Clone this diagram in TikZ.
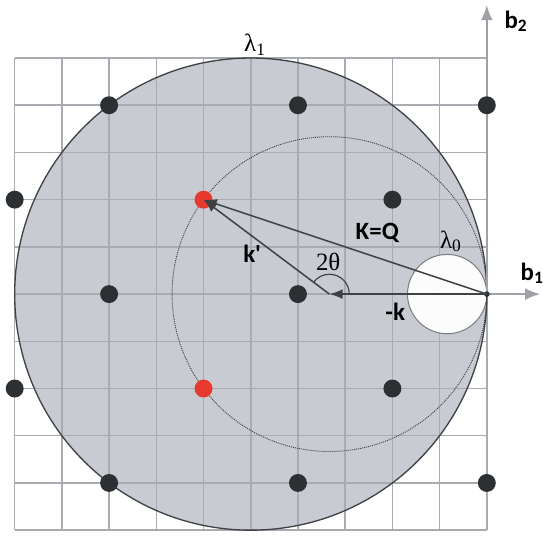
\documentclass[tikz,border=0pt]{standalone}
\usepackage{fontspec}
\setmainfont{Liberation Serif}
\newfontfamily\lblfont{Carlito}
\usetikzlibrary{arrows.meta}
\definecolor{ink}{HTML}{3F4245}
\definecolor{dotc}{HTML}{2D3033}
\definecolor{redc}{HTML}{E8392F}
\definecolor{disk}{HTML}{C8CCD2}
\definecolor{gridc}{HTML}{A8ABAF}
\definecolor{axis}{HTML}{9EA2A6}

\begin{document}
\begin{tikzpicture}[>=Latex,
  latdot/.style={circle,fill=dotc,inner sep=0pt,minimum size=0.38cm},
  reddot/.style={circle,fill=redc,inner sep=0pt,minimum size=0.38cm},
  vec/.style={ink,line width=0.9pt,-{Latex[length=8pt,width=6pt]}},
  axisline/.style={axis,line width=0.9pt,-{Latex[length=9pt,width=7pt]}},
  lbl/.style={font=\lblfont\bfseries\fontsize{15}{17}\selectfont},
  sym/.style={font=\fontsize{15}{17}\selectfont}]
\useasboundingbox (-0.311,-0.106) rectangle (11.19,11.229);
\coordinate (O) at (10,5);
\coordinate (C) at ({20/3},5);
\coordinate (b1end) at (11.13,5);
\coordinate (b2end) at (10,11.12);
% limiting sphere and grid
\fill[disk] (5,5) circle (5);
\draw[gridc,line width=0.9pt] (0,0) grid (10,10);
\draw[ink!70,line width=0.6pt,fill=white,fill opacity=0.95] (9.16,5) circle (0.84);
\draw[ink,line width=0.8pt] (5,5) circle (5);
\draw[ink,line width=0.55pt,dash pattern=on 0.6pt off 0.6pt] (C) circle ({10/3});
% axes
\draw[axisline] (O) -- (b1end);
\draw[axisline] (O) -- (b2end);
% lattice
\foreach \xx/\yy in {2/9,6/9,10/9,0/7,8/7,2/5,6/5,0/3,8/3,2/1,6/1,10/1}{
  \node[latdot] at (\xx,\yy) {};
}
\node[reddot] (R1) at (4,7) {};
\node[reddot] (R2) at (4,3) {};
\fill[dotc] (O) circle (0.06);
% vectors
\draw[vec] (O) -- (R1.center);
\draw[vec] (C) -- (R1.center);
\draw[vec] (O) -- (C);
\draw[ink,line width=0.7pt] ([xshift=0.42cm]C) arc[start angle=0,end angle=143.13,radius=0.42];
% labels
\node[sym] (lam1) at (5.09,10.28) {λ\textsubscript{1}};
\node[sym] (lam0) at (9.24,6.12) {λ\textsubscript{0}};
\node[sym] (ang) at (6.64,5.68) {2θ};
\node[lbl] (kq) at (7.68,6.29) {K=Q};
\node[lbl] (kp) at (5.03,5.85) {k'};
\node[lbl] (mk) at (8.06,4.62) {-k};
\node[lbl] (b1) at (10.96,5.44) {b\textsubscript{1}};
\node[lbl] (b2) at (10.62,10.78) {b\textsubscript{2}};
\end{tikzpicture}
\end{document}
